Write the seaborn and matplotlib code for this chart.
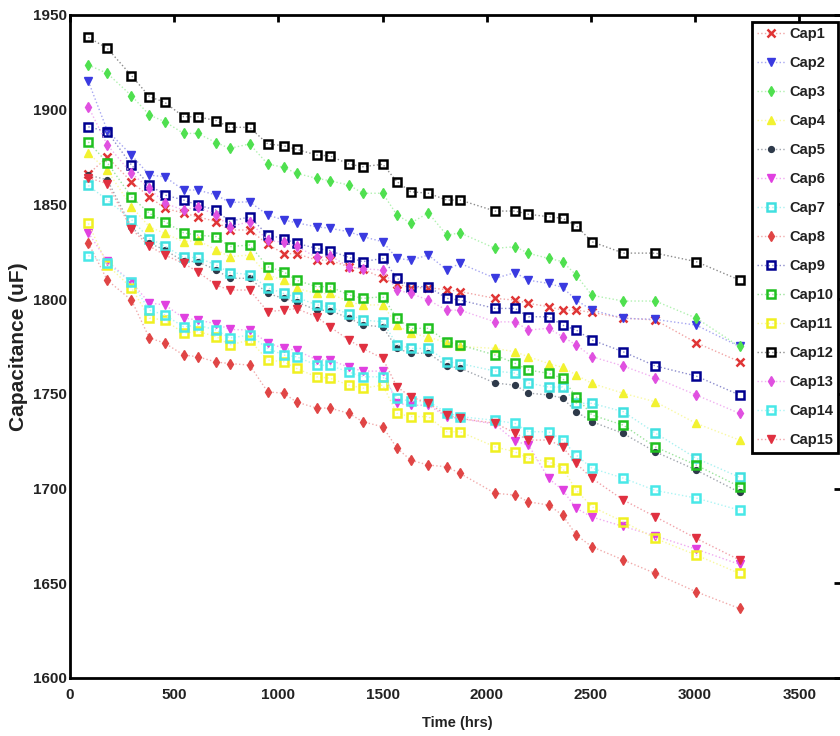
import matplotlib
matplotlib.use("Agg")
import matplotlib.pyplot as plt
import matplotlib.colors as mcolors
import seaborn as sns
import pandas as pd

times = [88, 179, 295, 381, 455, 545, 612, 702, 766, 862, 949, 1025, 1087, 1183, 1247,
         1339, 1405, 1501, 1569, 1635, 1720, 1808, 1872, 2040, 2136, 2200, 2297, 2364,
         2429, 2505, 2655, 2809, 3005, 3213]

cap1 = [1866, 1875, 1862, 1854, 1848, 1845.4, 1843.5, 1840.9, 1836.5, 1836.5, 1829, 1824, 1824,
        1820.6, 1820.6, 1817, 1816, 1811, 1808, 1806, 1806, 1805, 1804, 1800.4, 1799.5, 1797.8,
        1796, 1794.2, 1794.2, 1793, 1790, 1789, 1777, 1767]
cap2 = [1915, 1889, 1876, 1865.5, 1864.6, 1857.6, 1857.6, 1855, 1851, 1851.4, 1844.4, 1841.8,
        1840.3, 1838.2, 1837.4, 1835.6, 1833, 1830.3, 1821.5, 1820.6, 1823.3, 1815.4, 1818.9,
        1811, 1814, 1810, 1808.3, 1806.2, 1799.5, 1794.2, 1789.9, 1789.3, 1786.3, 1775]
cap3 = [1923.6, 1919.2, 1907.4, 1897.2, 1893.7, 1887.5, 1887.5, 1882.6, 1879.6, 1881.9, 1871.3,
        1869.6, 1866.4, 1863.8, 1862.5, 1860.2, 1855.9, 1855.9, 1844.4, 1840.2, 1845.5, 1833.8,
        1835, 1826.8, 1827.7, 1824.2, 1821.5, 1819.8, 1812.7, 1802, 1799, 1799, 1790, 1775]
cap4 = [1877, 1868, 1848.8, 1838.2, 1834.7, 1830.3, 1831, 1826, 1822.4, 1823.3, 1812.7, 1810,
        1805.7, 1803, 1803, 1798.6, 1796.9, 1797, 1786.3, 1782, 1780, 1777, 1775, 1774, 1772.2,
        1769.6, 1766, 1764, 1760, 1755.5, 1750.3, 1745.8, 1734.4, 1725.6]
cap5 = [1865.5, 1863, 1838, 1829.5, 1826, 1820, 1819.8, 1815.4, 1811, 1811, 1803, 1800.4, 1798.6,
        1794.2, 1794, 1790, 1786.3, 1785.4, 1774, 1771.4, 1771.5, 1764.7, 1763.6, 1755.7, 1754.6,
        1750.4, 1749.4, 1747.8, 1740.6, 1735.3, 1729.1, 1719.4, 1709.8, 1698]
cap6 = [1835, 1820, 1809, 1797.9, 1797, 1790, 1789, 1787, 1784, 1783.7, 1777, 1774, 1773, 1768,
        1768, 1764, 1762, 1762, 1745, 1744, 1744, 1738, 1737, 1734, 1725, 1723, 1705.4, 1699.2,
        1689.6, 1685, 1680, 1675, 1668, 1660]
cap7 = [1860, 1852.3, 1842, 1832, 1828, 1822, 1822, 1818, 1814, 1813, 1806, 1803, 1801, 1797,
        1796, 1792, 1789, 1788, 1776, 1774, 1774, 1767, 1766, 1762, 1761, 1755.7, 1753.6, 1753.6,
        1745, 1745, 1740.6, 1729.3, 1716, 1706]
cap8 = [1829.6, 1810, 1799.5, 1779.5, 1776.8, 1770.5, 1769.6, 1766.8, 1766, 1765.2, 1751, 1750.4,
        1745.7, 1742.5, 1742.5, 1739.7, 1735.3, 1732.6, 1721.4, 1715, 1712.4, 1711.5, 1708, 1697.5,
        1696.6, 1693, 1691.3, 1686, 1675.5, 1669.3, 1662.3, 1655.2, 1645.5, 1636.7]
cap9 = [1891, 1888.4, 1870.8, 1860.2, 1855, 1852.3, 1849.7, 1847, 1840.9, 1843.5, 1833.8, 1832,
        1829.5, 1826.8, 1825.6, 1822, 1819.8, 1821.5, 1811, 1806.6, 1806.6, 1800.4, 1799.5, 1795.1,
        1795.1, 1790.7, 1790.7, 1786.3, 1783.7, 1778.4, 1772.2, 1764.7, 1759.4, 1749.4]
cap10 = [1883, 1872, 1854, 1845.3, 1840.9, 1835, 1833.8, 1833, 1827.7, 1828.6, 1817.1, 1814.5,
         1810, 1806.6, 1806.6, 1802.2, 1800.4, 1801.3, 1789.9, 1784.6, 1784.6, 1777.5, 1775.8,
         1770.5, 1766.1, 1762.6, 1760.8, 1758.2, 1748.5, 1738.8, 1733.5, 1722, 1712.4, 1701]
cap11 = [1840, 1818, 1806, 1790, 1789, 1782, 1783, 1780.2, 1775.8, 1778.4, 1767.8, 1767, 1763.4,
         1759, 1758.3, 1754.6, 1753, 1754.6, 1739.7, 1738, 1738, 1730, 1730, 1722, 1719.4, 1715.9,
         1714.2, 1710.7, 1699.2, 1690.4, 1682.5, 1673.7, 1664.9, 1655.2]
cap12 = [1938.2, 1932.4, 1918.0, 1906.9, 1903.9, 1896.3, 1896.3, 1894.2, 1890.7, 1890.7, 1881.9,
         1881.0, 1879.1, 1876.1, 1875.6, 1871.3, 1869.9, 1871.2, 1862.0, 1856.7, 1855.9, 1852.3,
         1852.3, 1846.5, 1846.5, 1844.8, 1843.5, 1842.7, 1838.8, 1830.3, 1824.3, 1824.3, 1819.8,
         1810.1]
cap13 = [1901.6, 1881.4, 1866.4, 1858.5, 1850.6, 1847, 1848.8, 1844.4, 1838.2, 1840.9, 1831, 1830,
         1828, 1822, 1823, 1817, 1816, 1815.4, 1804.8, 1803, 1799.5, 1794.2, 1794.2, 1788, 1788,
         1783.7, 1784.6, 1780.2, 1775.8, 1769.6, 1764.7, 1758.5, 1749.4, 1739.7]
cap14 = [1823, 1818.9, 1809, 1794.2, 1791.6, 1785.4, 1786.3, 1783.7, 1779.5, 1781, 1774, 1770.5,
         1769.6, 1765.2, 1765, 1761.5, 1759, 1759, 1747.8, 1746, 1746, 1740, 1738, 1736, 1734.4,
         1730, 1730, 1725.6, 1717.7, 1710.7, 1705.5, 1699, 1695, 1688.6]
cap15 = [1864, 1861, 1837, 1828, 1823.3, 1818.9, 1814.5, 1807.4, 1804.8, 1804.8, 1793.4, 1794.2,
         1795, 1790.7, 1785.4, 1778.4, 1774, 1768.7, 1753.7, 1748.5, 1745, 1738.8, 1737, 1734.5,
         1729.3, 1725.6, 1725.6, 1722, 1713.3, 1705.4, 1694, 1685.1, 1673.7, 1662.3]

names = ["Cap1", "Cap2", "Cap3", "Cap4", "Cap5", "Cap6", "Cap7", "Cap8", "Cap9", "Cap10",
         "Cap11", "Cap12", "Cap13", "Cap14", "Cap15"]
series = [cap1, cap2, cap3, cap4, cap5, cap6, cap7, cap8, cap9, cap10, cap11, cap12, cap13,
          cap14, cap15]

xticks = [0, 500, 1000, 1500, 2000, 2500, 3000, 3500]
yticks = [1600, 1650, 1700, 1750, 1800, 1850, 1900, 1950]

colors = ["#e03535", "#3a3ae0", "#4fe04f", "#f2f230", "#2e3a4a", "#e040e0", "#40e0e0",
          "#e04545", "#000090", "#20c020", "#f0f020", "#000000", "#e050e0", "#48e8e8",
          "#e03040"]
markers = ["x", "v", "d", "^", "o", "v", "s", "d", "s", "s", "s", "s", "d", "s", "v"]


def lighten(c, f=0.55):
    r, g, b = mcolors.to_rgb(c)
    return (r + (1 - r) * f, g + (1 - g) * f, b + (1 - b) * f)


sns.set_theme(style="white")
plt.rcParams["font.family"] = ["Liberation Sans", "DejaVu Sans"]

fig = plt.figure(figsize=(8.4, 7.36), dpi=100)
ax = fig.add_axes([70 / 840, 1 - 678 / 736, 771 / 840, 663 / 736])

frames = []
for name, vals in zip(names, series):
    frames.append(pd.DataFrame({"Time": times, "Cap": vals, "name": name}))
df = pd.concat(frames, ignore_index=True)

for name, col, mk in zip(names, colors, markers):
    sub = df[df["name"] == name]
    if mk == "x":
        kw = dict(markersize=5.5, markeredgewidth=1.8, markerfacecolor=col)
    elif mk == "o":
        kw = dict(markersize=4.2, markeredgewidth=1.0, markerfacecolor=col)
    elif mk == "s":
        kw = dict(markersize=5.5, markeredgewidth=1.8, markerfacecolor="none")
    else:
        kw = dict(markersize=5.6, markeredgewidth=1.0, markerfacecolor=col)
    sns.lineplot(data=sub, x="Time", y="Cap", ax=ax, color=lighten(col), marker=mk,
                 markeredgecolor=col, linestyle=":", linewidth=1.0,
                 label=name, errorbar=None, sort=False, **kw)

ax.set_xlim(0, 3700)
ax.set_ylim(1600, 1950)
ax.set_xticks(xticks)
ax.set_yticks(yticks)
ax.set_xticklabels([str(t) for t in xticks])
ax.set_yticklabels([str(t) for t in yticks])

for sp in ax.spines.values():
    sp.set_visible(True)
    sp.set_color("black")
    sp.set_linewidth(2.0)

ax.tick_params(axis="both", which="major", direction="in", length=5, width=2,
               colors="black", top=True, right=True, labelsize=11)
ax.tick_params(axis="x", pad=7)
ax.tick_params(axis="y", pad=2)
for lab in ax.get_xticklabels() + ax.get_yticklabels():
    lab.set_fontweight("bold")
    lab.set_color("#222222")

ax.set_xlabel("Time (hrs)", fontsize=10.5, fontweight="bold", color="#222222")
ax.set_ylabel("Capacitance (uF)", fontsize=15, fontweight="bold", color="#222222")
ax.xaxis.set_label_coords(0.502, -0.058)
ax.yaxis.set_label_coords(-0.054, 0.5)

leg = ax.legend(loc="upper right", bbox_to_anchor=(838 / 840, 1 - 22 / 736),
                bbox_transform=fig.transFigure, borderaxespad=0, frameon=True,
                fancybox=False, shadow=False, fontsize=10.5, handlelength=2.0,
                handletextpad=0.2, borderpad=0.35, labelspacing=1.03)
frame = leg.get_frame()
frame.set_edgecolor("black")
frame.set_linewidth(2.0)
frame.set_facecolor("white")
frame.set_alpha(1.0)
for txt in leg.get_texts():
    txt.set_fontweight("bold")
    txt.set_color("#222222")

fig.savefig("out.png", dpi=100)
